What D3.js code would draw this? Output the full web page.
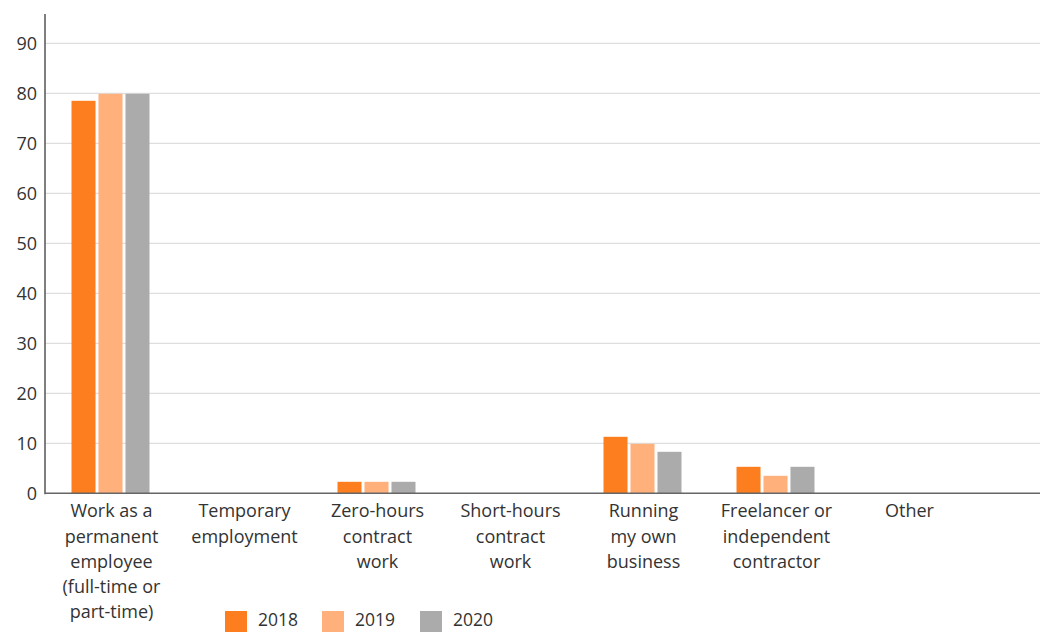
<!DOCTYPE html>
<html><head><meta charset="utf-8">
<script src="https://cdn.jsdelivr.net/npm/d3@7"></script>
<style>body{margin:0;background:#fff}svg{display:block}text{font-family:"Open Sans",sans-serif;fill:#333}</style>
</head><body><svg id="c" width="1040" height="632"></svg>
<script>
const categories = [
  ["Work as a","permanent","employee","(full-time or","part-time)"],
  ["Temporary","employment"],
  ["Zero-hours","contract","work"],
  ["Short-hours","contract","work"],
  ["Running","my own","business"],
  ["Freelancer or","independent","contractor"],
  ["Other"]
];
const seriesNames = ["2018","2019","2020"];
const values2018 = [78.5, null, 2.3, null, 11.3, 5.3, null];
const values2019 = [79.9, null, 2.3, null, 9.9, 3.5, null];
const values2020 = [79.9, null, 2.3, null, 8.3, 5.3, null];
const yTicks = [0,10,20,30,40,50,60,70,80,90];
const colors = ["#FD7E1E","#FFB07B","#ABABAB"];

const series = [values2018, values2019, values2020];
const svg = d3.select("#c");
const x0 = 45, yTop = 14, yBase = 493.3;
const y = d3.scaleLinear().domain([0,90]).range([yBase, 43.3]);
const x = d3.scaleBand().domain(d3.range(categories.length)).range([x0, x0 + 7*133]);
const xs = d3.scaleBand().domain(d3.range(3)).range([0, 78]).paddingInner(0.11);

// grid
svg.append("g").selectAll("line").data(yTicks.filter(d=>d>0)).join("line")
  .attr("x1", x0).attr("x2", 1040).attr("y1", d=>y(d)).attr("y2", d=>y(d))
  .attr("stroke", "#d6d6d6").attr("stroke-width", 1);

// bars
const g = svg.append("g");
series.forEach((vals, si) => {
  g.append("g").selectAll("rect").data(vals.map((v,i)=>({v,i})).filter(d=>d.v!=null)).join("rect")
    .attr("x", d => x(d.i) + (x.bandwidth()-78)/2 - 1 + xs(si))
    .attr("width", xs.bandwidth())
    .attr("y", d => y(d.v))
    .attr("height", d => yBase - y(d.v))
    .attr("fill", colors[si]);
});

// axes lines
svg.append("line").attr("x1", x0).attr("x2", x0).attr("y1", yTop).attr("y2", yBase+1)
  .attr("stroke", "#555").attr("stroke-width", 1.5);
svg.append("line").attr("x1", x0).attr("x2", 1040).attr("y1", yBase).attr("y2", yBase)
  .attr("stroke", "#666").attr("stroke-width", 1.5);

// y tick labels
svg.append("g").selectAll("text").data(yTicks).join("text")
  .attr("x", 37).attr("y", d=>y(d)).attr("dy", "0.35em")
  .attr("text-anchor", "end").attr("font-size", 18).text(d=>d);

// category labels
const cl = svg.append("g").selectAll("text").data(categories).join("text")
  .attr("text-anchor", "middle").attr("font-size", 18)
  .attr("transform", (d,i)=>`translate(${x(i)+x.bandwidth()/2},0)`);
cl.selectAll("tspan").data(d=>d).join("tspan")
  .attr("x", 0).attr("y", (d,j)=>511 + j*25.2).attr("dy","0.35em").text(d=>d);

// legend
const lx = [225, 322, 420];
const lg = svg.append("g").selectAll("g").data(seriesNames).join("g")
  .attr("transform", (d,i)=>`translate(${lx[i]},611)`);
lg.append("rect").attr("width", 22).attr("height", 21).attr("fill", (d,i)=>colors[i]);
lg.append("text").attr("x", 33).attr("y", 9).attr("dy","0.35em").attr("font-size", 17.5).text(d=>d);
</script></body></html>
